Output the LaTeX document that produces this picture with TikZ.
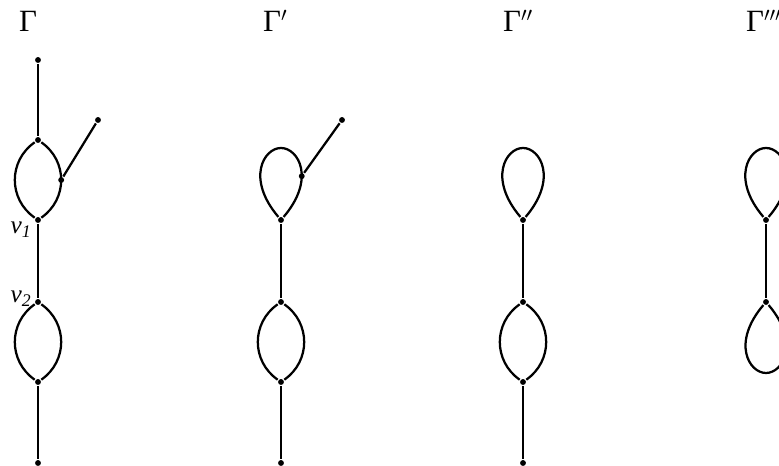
\documentclass[tikz,border=0pt]{standalone}
\usepackage{fontspec}
\setmainfont{Liberation Serif}
\usetikzlibrary{calc}
\tikzset{
  dot/.style={circle,fill,inner sep=0pt,minimum size=4.2pt},
  title/.style={font=\fontsize{22}{26}\selectfont,inner sep=0pt,anchor=base west},
  vlabel/.style={font=\fontsize{18}{21}\selectfont\itshape},
  lpart/.style={out looseness=1.86,in looseness=0.64},
  rpart/.style={out looseness=0.64,in looseness=1.86}
}
\begin{document}
\begin{tikzpicture}[x=0.025cm,y=0.025cm,line width=1.6pt]
  \useasboundingbox (0,0) rectangle (779,466);
  % Gamma
  \node[title] (gam1) at (18,434) {Γ};
  \node[dot] (a0) at (38,406) {};
  \node[dot] (a1) at (38,326) {};
  \node[dot] (v1) at (38,246) {};
  \node[dot] (v2) at (38,164) {};
  \node[dot] (a4) at (38,84) {};
  \node[dot] (a5) at (38,3) {};
  \node[dot] (a6) at (98,346) {};
  \draw (a0) -- (a1);
  \draw (a1) to[out=215,in=145,looseness=1.1] (v1);
  \draw (a1) to[out=-35,in=35,looseness=1.1] node[dot,pos=0.5] (a7) {} (v1);
  \draw (a7) -- (a6);
  \draw (v1) -- (v2);
  \draw (v2) to[out=215,in=145,looseness=1.1] (a4);
  \draw (v2) to[out=-35,in=35,looseness=1.1] (a4);
  \draw (a4) -- (a5);
  \node[vlabel] (lv1) at (21,236) {v\textsubscript{1}};
  \node[vlabel] (lv2) at (21,167) {v\textsubscript{2}};
  % Gamma'
  \node[title] (gam2) at (262,434) {Γ$'$};
  \node[dot] (b1) at (281,246) {};
  \coordinate (bt) at (281,318);
  \node[dot] (b2) at (281,164) {};
  \node[dot] (b3) at (281,84) {};
  \node[dot] (b4) at (281,3) {};
  \node[dot] (b5) at (342,346) {};
  \draw (b1) to[out=130.4,in=180,lpart] (bt)
    to[out=0,in=49.6,rpart] node[dot,pos=0.6] (b6) {} (b1);
  \draw (b6) -- (b5);
  \draw (b1) -- (b2);
  \draw (b2) to[out=215,in=145,looseness=1.1] (b3);
  \draw (b2) to[out=-35,in=35,looseness=1.1] (b3);
  \draw (b3) -- (b4);
  % Gamma''
  \node[title] (gam3) at (502,434) {Γ$''$};
  \node[dot] (c1) at (523,246) {};
  \coordinate (ct) at (523,318);
  \node[dot] (c2) at (523,164) {};
  \node[dot] (c3) at (523,84) {};
  \node[dot] (c4) at (523,3) {};
  \draw (c1) to[out=130.4,in=180,lpart] (ct)
    to[out=0,in=49.6,rpart] (c1);
  \draw (c1) -- (c2);
  \draw (c2) to[out=215,in=145,looseness=1.1] (c3);
  \draw (c2) to[out=-35,in=35,looseness=1.1] (c3);
  \draw (c3) -- (c4);
  % Gamma'''
  \node[title] (gam4) at (745,434) {Γ$'''$};
  \node[dot] (d1) at (766,246) {};
  \coordinate (dt) at (766,318);
  \node[dot] (d2) at (766,164) {};
  \coordinate (db) at (766,93);
  \draw (d1) to[out=130.4,in=180,lpart] (dt)
    to[out=0,in=49.6,rpart] (d1);
  \draw (d1) -- (d2);
  \draw (d2) to[out=229.6,in=180,lpart] (db)
    to[out=0,in=310.4,rpart] (d2);
\end{tikzpicture}
\end{document}
